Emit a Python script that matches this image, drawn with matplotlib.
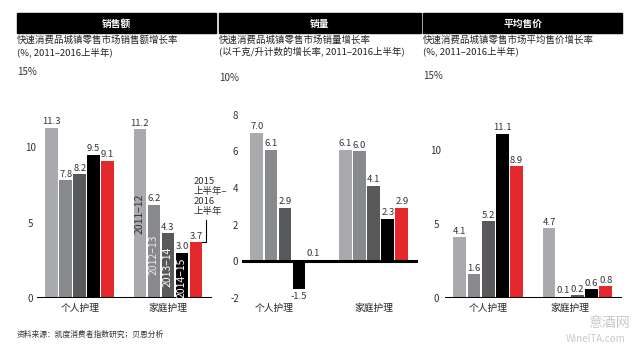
import matplotlib.pyplot as plt
from matplotlib.patches import Rectangle

plt.rcParams["font.family"] = ["Noto Sans CJK SC", "DejaVu Sans"]

W, H = 640, 350

groups = ["个人护理", "家庭护理"]
periods = ["2011–12", "2012–13", "2013–14", "2014–15", "2015上半年–2016上半年"]
bar_colors = ["#a8aaad", "#88898c", "#58595b", "#000000", "#e3292b"]

sales_value = [[11.3, 7.8, 8.2, 9.5, 9.1], [11.2, 6.2, 4.3, 3.0, 3.7]]
sales_volume = [[7.0, 6.1, 2.9, -1.5, 0.1], [6.1, 6.0, 4.1, 2.3, 2.9]]
avg_price = [[4.1, 1.6, 5.2, 11.1, 8.9], [4.7, 0.1, 0.2, 0.6, 0.8]]

headers = ["销售额", "销量", "平均售价"]
subtitles = [
    "快速消费品城镇零售市场销售额增长率\n(%, 2011–2016上半年)",
    "快速消费品城镇零售市场销量增长率\n(以千克/升计数的增长率, 2011–2016上半年)",
    "快速消费品城镇零售市场平均售价增长率\n(%, 2011–2016上半年)",
]
top_labels = ["15%", "10%", "15%"]
y_ticks = [[0, 5, 10], [-2, 0, 2, 4, 6, 8], [0, 5, 10]]
y_limits = [(0, 15), (-2, 10), (0, 15)]

GROUP_STEP = 6.3
TEXT = "#333333"


def add_axes_px(fig, x0, y0, x1, y1):
    return fig.add_axes([x0 / W, 1 - y1 / H, (x1 - x0) / W, (y1 - y0) / H])


def draw_panel(fig, box, header_box, data, k, ypad, group_ticks):
    hx0, hx1 = header_box
    fig.patches.append(Rectangle((hx0 / W, 1 - 33 / H), (hx1 - hx0) / W, 20 / H,
                                 transform=fig.transFigure, color="black"))
    fig.text((hx0 + hx1) / 2 / W, 1 - 23.5 / H, headers[k], color="white",
             fontsize=7, weight="bold", ha="center", va="center")
    fig.text(hx0 / W, 1 - 35 / H, subtitles[k], fontsize=6.8, color="#222222",
             ha="left", va="top", linespacing=1.3)
    fig.text(hx0 / W, 1 - box[1] / H, top_labels[k], fontsize=7,
             color=TEXT, ha="left", va="center")

    ax = add_axes_px(fig, *box)
    for g, vals in enumerate(data):
        for i, v in enumerate(vals):
            x = i + g * GROUP_STEP
            ax.bar(x, v, width=0.9, color=bar_colors[i])
            if v >= 0:
                ax.text(x, v + 0.1, f"{v:.1f}", fontsize=6.8, color=TEXT,
                        ha="center", va="bottom")
            else:
                ax.text(x, v - 0.15, f"{v:.1f}", fontsize=6.8, color=TEXT,
                        ha="center", va="top")
    ax.axhline(0, color="black", lw=2.2, zorder=5)
    ax.set_xlim(-1.05, 11.45)
    ax.set_ylim(*y_limits[k])
    ax.set_yticks(y_ticks[k])
    ax.set_yticklabels([str(t) for t in y_ticks[k]], ha="center")
    ax.set_xticks(group_ticks)
    ax.set_xticklabels(groups)
    ax.tick_params(axis="y", length=0, pad=ypad, labelsize=7, labelcolor=TEXT)
    ax.tick_params(axis="x", length=0, pad=3.5, labelsize=7, labelcolor="#222222")
    for s in ax.spines.values():
        s.set_visible(False)
    return ax


fig = plt.figure(figsize=(6.4, 3.5), dpi=100)

ax1 = draw_panel(fig, (37, 72, 212, 298), (17, 216), sales_value, 0, 4.5,
                 [2, 2 + GROUP_STEP])
draw_panel(fig, (242, 78, 418, 298), (219, 421), sales_volume, 1, 5,
           [1.2, 2 + GROUP_STEP])
draw_panel(fig, (445, 76, 622, 298), (423, 622), avg_price, 2, 6.5,
           [2, 1.5 + GROUP_STEP])

# period labels inside the 家庭护理 bars of the first panel
label_tops = [6.95, 4.2, 3.4, 2.7]
label_colors = ["#333333", "#e6e6e6", "white", "white"]
for i in range(4):
    ax1.text(i + GROUP_STEP, label_tops[i], periods[i], rotation=90, fontsize=7.5,
             color=label_colors[i], ha="center", va="top", zorder=6)

red_x = 4 + GROUP_STEP
ax1.text(red_x - 0.2, 8.0, "2015\n上半年–\n2016\n上半年", fontsize=6.8, color=TEXT,
         ha="left", va="top", linespacing=1.1, clip_on=False)
ax1.plot([red_x + 0.72, red_x + 0.72, red_x + 0.45], [5.2, 3.7, 3.7],
         color="black", lw=0.8, clip_on=False)

fig.text(17 / W, 1 - 335 / H, "资料来源：凯度消费者指数研究；贝恩分析", fontsize=5.6,
         color=TEXT, ha="left", va="center")
fig.text(609 / W, 1 - 323 / H, "意酒网", fontsize=10, color="#c9c9c9",
         ha="center", va="center")
fig.text(596 / W, 1 - 339 / H, "WineITA.com", fontsize=7, color="#c9c9c9",
         ha="center", va="center")

fig.savefig("out.png", dpi=100)
